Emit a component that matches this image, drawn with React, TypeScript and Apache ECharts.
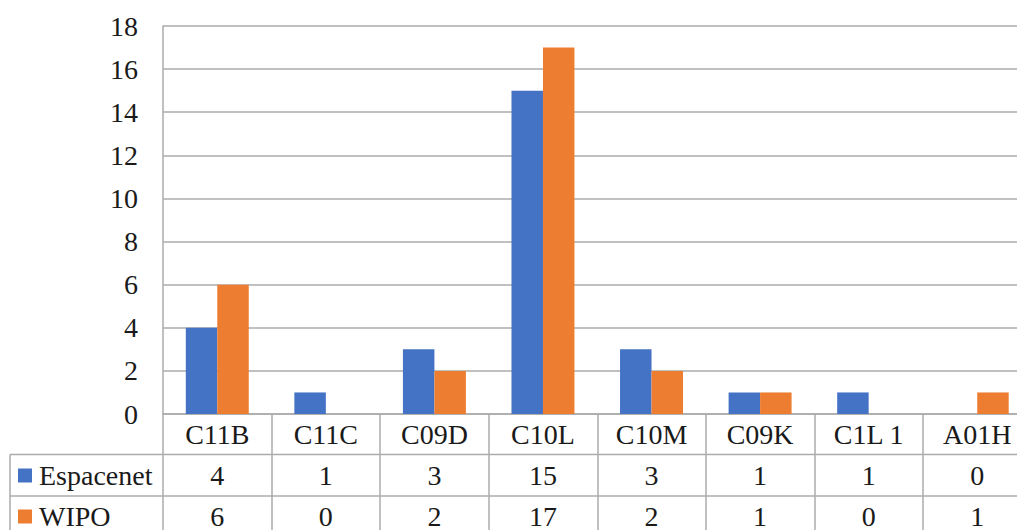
import React, { useEffect, useRef } from "react";
import * as echarts from "echarts";

const categories = ["C11B", "C11C", "C09D", "C10L", "C10M", "C09K", "C1L 1", "A01H"];
const espacenet = [4, 1, 3, 15, 3, 1, 1, 0];
const wipo = [6, 0, 2, 17, 2, 1, 0, 1];
const seriesNames = ["Espacenet", "WIPO"];
const colors = ["#4472C4", "#ED7D31"];

const FONT = "Liberation Serif";
const GRID = "#ababab";
const TEXT = "#1a1a1a";

export default function App() {
  const ref = useRef<HTMLDivElement>(null);
  useEffect(() => {
    if (!ref.current) return;
    const chart = echarts.init(ref.current, null, { renderer: "svg" });
    const W = 1060;
    const plotRight = 1031.5;
    const rowLine1 = 454.5;
    const rowLine2 = 496;
    chart.setOption({
      animation: false,
      textStyle: { fontFamily: FONT },
      grid: { left: 163, right: W - plotRight, top: 26, bottom: 545 - 414 },
      xAxis: {
        type: "category",
        data: categories,
        axisLine: { show: true, lineStyle: { color: GRID, width: 1.5 } },
        axisTick: { show: true, length: 123, lineStyle: { color: GRID, width: 1.5 } },
        axisLabel: {
          interval: 0,
          margin: 0,
          verticalAlign: "top",
          fontFamily: FONT,
          fontSize: 28,
          color: TEXT,
          lineHeight: 41,
          formatter: (value: string, idx: number) =>
            `${value}\n${espacenet[idx]}\n${wipo[idx]}`,
        },
      },
      yAxis: {
        type: "value",
        min: 0,
        max: 18,
        interval: 2,
        axisLine: { show: true, lineStyle: { color: GRID, width: 1.5 } },
        axisTick: { show: false },
        splitLine: { show: true, lineStyle: { color: GRID, width: 1.5 } },
        axisLabel: { fontFamily: FONT, fontSize: 28, color: TEXT, margin: 25 },
      },
      series: [
        {
          name: seriesNames[0],
          type: "bar",
          data: espacenet,
          itemStyle: { color: colors[0] },
          barGap: "0%",
          barCategoryGap: "42%",
        },
        {
          name: seriesNames[1],
          type: "bar",
          data: wipo,
          itemStyle: { color: colors[1] },
          barGap: "0%",
          barCategoryGap: "42%",
        },
      ],
      graphic: [
        { type: "line", shape: { x1: 10, y1: rowLine1, x2: plotRight, y2: rowLine1 }, style: { stroke: GRID, lineWidth: 1.5 } },
        { type: "line", shape: { x1: 10, y1: rowLine2, x2: plotRight, y2: rowLine2 }, style: { stroke: GRID, lineWidth: 1.5 } },
        { type: "line", shape: { x1: 10, y1: rowLine1, x2: 10, y2: 545 }, style: { stroke: GRID, lineWidth: 1.5 } },
        ...seriesNames.flatMap((name, i) => {
          const cy = i === 0 ? 475.5 : 516.5;
          return [
            { type: "rect", shape: { x: 18, y: cy - 7, width: 14, height: 14 }, style: { fill: colors[i] } },
            {
              type: "text",
              x: 39,
              y: cy,
              style: {
                text: name,
                fontFamily: FONT,
                fontSize: 28,
                fill: TEXT,
                verticalAlign: "middle",
                align: "left",
              },
            },
          ];
        }),
      ],
    });
    return () => chart.dispose();
  }, []);
  return (
    <div style={{ position: "fixed", left: 0, top: 0, width: 1017, height: 530, overflow: "hidden", background: "#fff" }}>
      <div ref={ref} style={{ width: 1060, height: 545 }} />
    </div>
  );
}
